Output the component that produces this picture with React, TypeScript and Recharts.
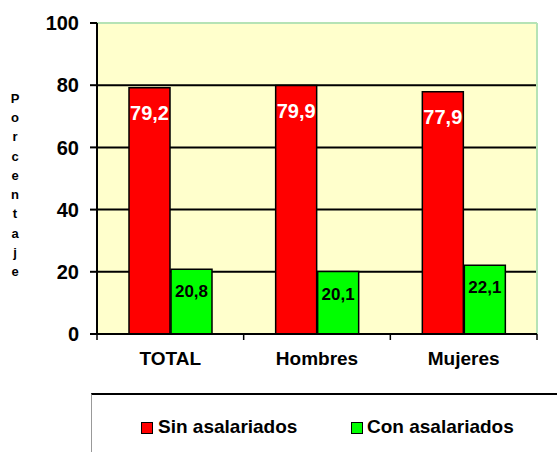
import React from 'react';
import { BarChart, Bar, XAxis, YAxis, CartesianGrid, LabelList, Label } from 'recharts';

const categories = ['TOTAL', 'Hombres', 'Mujeres'];
const sinAsalariados = [79.2, 79.9, 77.9];
const conAsalariados = [20.8, 20.1, 22.1];
const yTicks = [0, 20, 40, 60, 80, 100];
const edgeTicks = [0, 1, 2, 3];
const seriesNames = ['Sin asalariados', 'Con asalariados'];
const yTitle = 'Porcentaje';

const data = categories.map((c, i) => ({ name: c, sin: sinAsalariados[i], con: conAsalariados[i], pos: i + 0.5 }));

const FONT = 'Arial, "Liberation Sans", sans-serif';
const fmt = (v: any) => Number(v).toFixed(1).replace('.', ',');

const YTitle = (props: any) => {
  const vb = props.viewBox || { x: 37, y: 23, width: 60, height: 311 };
  const letters = yTitle.split('');
  const step = 19.3;
  const cx = vb.x - 22;
  const startY = vb.y + vb.height / 2 - ((letters.length - 1) / 2) * step + 11;
  return (
    <g>
      {letters.map((l, i) => (
        <text key={i} x={cx} y={startY + i * step} textAnchor="middle" fontFamily={FONT} fontWeight="bold" fontSize={13} fill="#000">
          {l}
        </text>
      ))}
    </g>
  );
};

export default function App() {
  return (
    <div style={{ position: 'absolute', left: 0, top: 0, width: 557, height: 452, background: '#fff', overflow: 'hidden' }}>
      <BarChart
        width={557}
        height={452}
        data={data}
        margin={{ top: 23, right: 20, left: 37, bottom: 78 }}
        barGap={1}
      >
        <CartesianGrid
          xAxisId="b"
          fill="#FFFFCC"
          stroke="#000"
          strokeWidth={2}
          vertical={false}
          horizontalValues={[20, 40, 60, 80]}
          strokeOpacity={1}
          fillOpacity={1}
        />
        <CartesianGrid
          xAxisId="b"
          stroke="#b5e3b5"
          strokeWidth={2}
          horizontalValues={[100]}
          verticalCoordinatesGenerator={(p: any) => [p.offset.left + p.offset.width]}
        />
        <XAxis
          xAxisId="a"
          dataKey="pos"
          type="number"
          domain={[0, 3]}
          ticks={edgeTicks}
          allowDataOverflow
          height={6}
          axisLine={{ stroke: '#000', strokeWidth: 2 }}
          tickLine={{ stroke: '#000', strokeWidth: 1.5 }}
          tickSize={6}
          tickFormatter={() => ' '}
          tick={{ fontSize: 1 }}
        />
        <XAxis
          xAxisId="b"
          dataKey="name"
          height={34}
          axisLine={false}
          tickLine={false}
          tickSize={0}
          tickMargin={12}
          tick={{ fontFamily: FONT, fontWeight: 'bold', fontSize: 19, fill: '#000' }}
          interval={0}
        />
        <YAxis
          domain={[0, 100]}
          ticks={yTicks}
          width={60}
          axisLine={{ stroke: '#000', strokeWidth: 2 }}
          tickLine={{ stroke: '#000', strokeWidth: 2 }}
          tickSize={7}
          tickMargin={11}
          tick={{ fontFamily: FONT, fontWeight: 'bold', fontSize: 20, fill: '#000' }}
        >
          <Label content={<YTitle />} position="left" />
        </YAxis>
        <Bar xAxisId="b" dataKey="sin" name={seriesNames[0]} fill="#FF0000" stroke="#000" strokeWidth={1.5} barSize={41} isAnimationActive={false}>
          <LabelList dataKey="sin" position="insideTop" offset={18} formatter={fmt} fill="#fff" fontFamily={FONT} fontWeight="bold" fontSize={20} />
        </Bar>
        <Bar xAxisId="b" dataKey="con" name={seriesNames[1]} fill="#00FF00" stroke="#000" strokeWidth={1.5} barSize={41} isAnimationActive={false}>
          <LabelList dataKey="con" position="insideTop" offset={16} formatter={fmt} fill="#000" fontFamily={FONT} fontWeight="bold" fontSize={17} />
        </Bar>
      </BarChart>
      <div
        style={{
          position: 'absolute',
          left: 91,
          top: 393,
          width: 480,
          height: 70,
          borderTop: '2px solid #000',
          borderLeft: '1px solid #999',
          background: '#fff',
          fontFamily: FONT,
          fontWeight: 'bold',
          fontSize: 19,
          color: '#000',
        }}
      >
        <div style={{ position: 'absolute', left: 49, top: 27, width: 10, height: 10, background: '#FF0000', border: '1px solid #000' }} />
        <div style={{ position: 'absolute', left: 66, top: 21, lineHeight: '22px', whiteSpace: 'nowrap' }}>{seriesNames[0]}</div>
        <div style={{ position: 'absolute', left: 259, top: 27, width: 10, height: 10, background: '#00FF00', border: '1px solid #000' }} />
        <div style={{ position: 'absolute', left: 275, top: 21, lineHeight: '22px', whiteSpace: 'nowrap' }}>{seriesNames[1]}</div>
      </div>
    </div>
  );
}
